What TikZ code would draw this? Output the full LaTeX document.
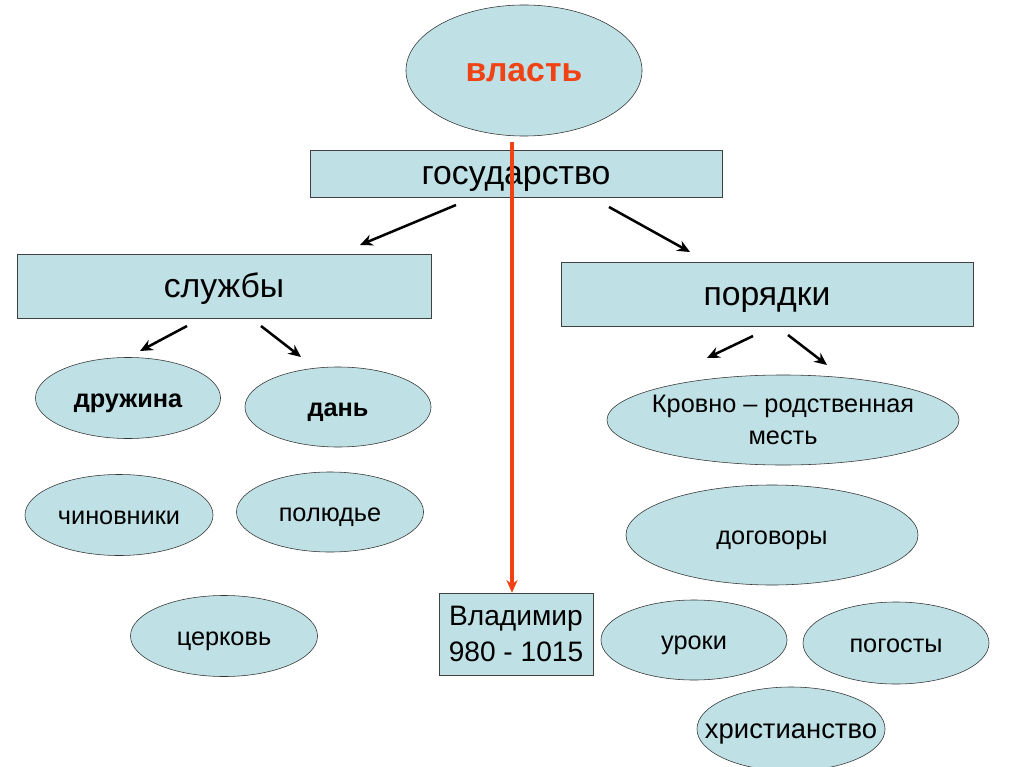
\documentclass[tikz,border=0pt]{standalone}
\usepackage{fontspec}
\setmainfont{Liberation Sans}
\usetikzlibrary{shapes.geometric,arrows.meta}
\definecolor{boxfill}{RGB}{191,224,228}
\definecolor{redline}{RGB}{240,66,20}
\begin{document}
\begin{tikzpicture}[x=0.025cm, y=-0.025cm,
  box/.style={draw=black!75, fill=boxfill, inner sep=0pt, text height=20pt, text depth=4pt, font=\fontsize{24}{28}\selectfont},
  oval/.style={ellipse, draw=black!80, fill=boxfill, inner sep=0pt, text height=16pt, text depth=2pt, font=\fontsize{18}{23}\selectfont},
  twolines/.style={align=center, text height={}, text depth={}},
  arr/.style={-{Stealth[length=9pt,width=8pt]}, line width=1.8pt}]

\useasboundingbox[fill=white] (0,0) rectangle (1024,767);

% Top
\node[oval, minimum width=5.9cm, minimum height=3.275cm, text=redline, text height=20pt, text depth=4pt, font=\fontsize{24}{28}\selectfont\bfseries] (vlast) at (524,70.5) {власть};
\node[box, minimum width=10.3cm, minimum height=1.175cm] (gos) at (516,173.5) {государство};

% Boxes
\node[box, minimum width=10.35cm, minimum height=1.6cm] (sluzhby) at (224,286) {службы};
\node[box, minimum width=10.3cm, minimum height=1.6cm] (poryadki) at (767,294) {порядки};
\node[box, twolines, minimum width=3.85cm, minimum height=2.05cm, font=\fontsize{20}{25}\selectfont] (vlad) at (516,634) {Владимир\\980 - 1015};

% Ovals (left)
\node[oval, minimum width=4.625cm, minimum height=2.025cm, font=\fontsize{18}{23}\selectfont\bfseries] (druzhina) at (128,398) {дружина};
\node[oval, minimum width=4.65cm, minimum height=2cm, font=\fontsize{18}{23}\selectfont\bfseries] (dan) at (338,407) {дань};
\node[oval, minimum width=4.7cm, minimum height=2.025cm] (chin) at (119,515) {чиновники};
\node[oval, minimum width=4.675cm, minimum height=2cm] (polyudie) at (330,512) {полюдье};
\node[oval, minimum width=4.675cm, minimum height=2.025cm] (tserkov) at (224,636) {церковь};

% Ovals (right)
\node[oval, twolines, inner xsep=-8pt, minimum width=8.8cm, minimum height=2.25cm] (mest) at (783,420) {Кровно -- родственная\\месть};
\node[oval, minimum width=7.3cm, minimum height=2.5cm] (dogovory) at (772,535) {договоры};
\node[oval, minimum width=4.65cm, minimum height=2cm] (uroki) at (694,640) {уроки};
\node[oval, minimum width=4.65cm, minimum height=2.05cm] (pogosty) at (896,643) {погосты};
\node[oval, inner xsep=-20pt, minimum width=4.7cm, minimum height=2.1cm, font=\fontsize{19.5}{24}\selectfont] (hrist) at (791,729) {христианство};

% Arrow ends
\coordinate (g1) at (456,205); \coordinate (g1e) at (360,245);
\coordinate (g2) at (609,207); \coordinate (g2e) at (690,252);
\coordinate (s1) at (187,326); \coordinate (s1e) at (140,351);
\coordinate (s2) at (261,326); \coordinate (s2e) at (301,357);
\coordinate (p1) at (753,336); \coordinate (p1e) at (707,358);
\coordinate (p2) at (788,335); \coordinate (p2e) at (827,365);
\coordinate (r1) at (512,142);

% Arrows
\draw[arr] (g1) -- (g1e);
\draw[arr] (g2) -- (g2e);
\draw[arr] (s1) -- (s1e);
\draw[arr] (s2) -- (s2e);
\draw[arr] (p1) -- (p1e);
\draw[arr] (p2) -- (p2e);
\draw[arr, redline, line width=2.8pt] (r1) -- (r1 |- vlad.north);

\end{tikzpicture}
\end{document}
